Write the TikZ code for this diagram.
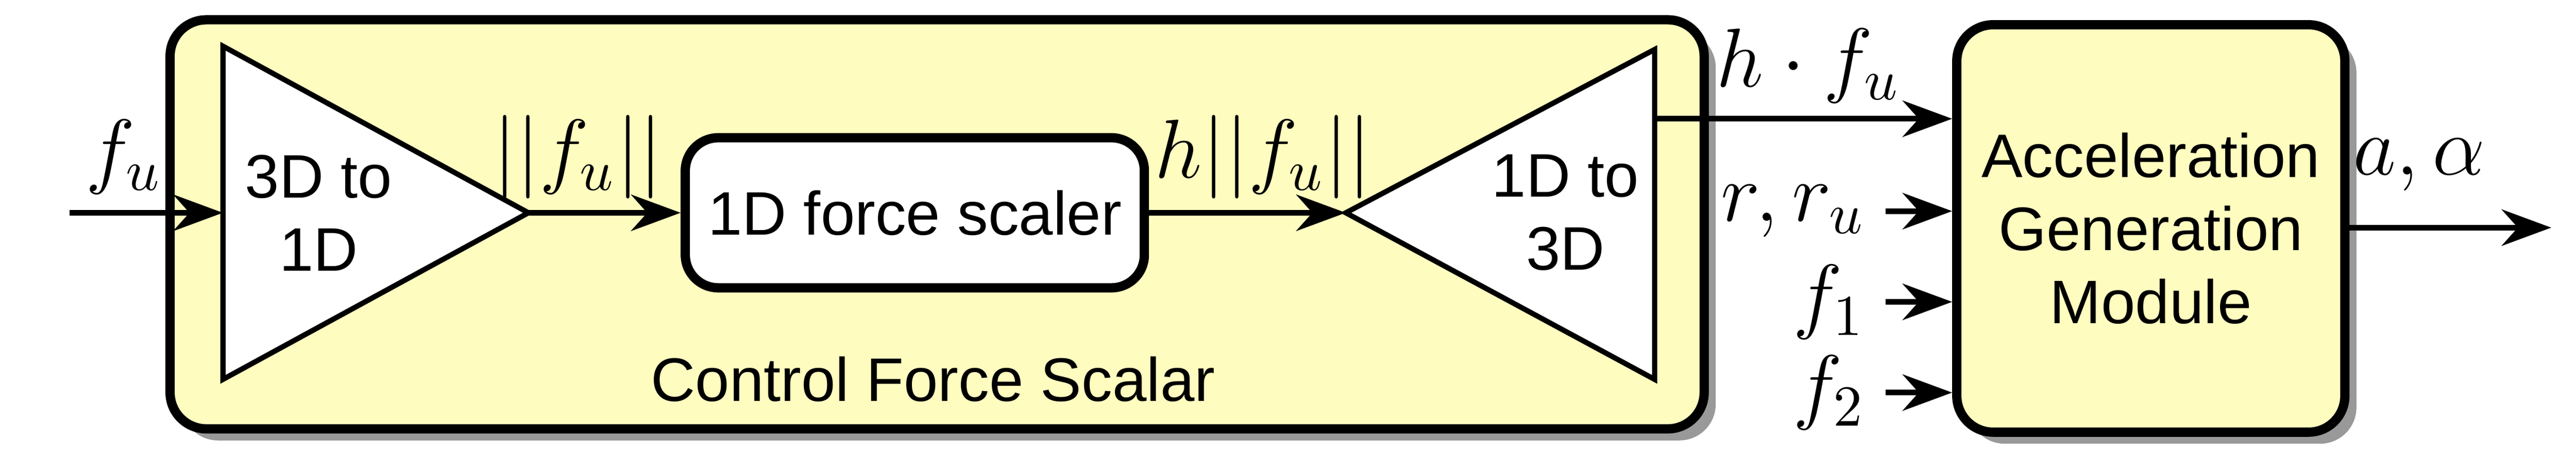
\documentclass[tikz,border=0pt]{standalone}
\usepackage{fontspec}
\setmainfont{Liberation Sans}
\usetikzlibrary{positioning,calc,arrows.meta,shadows}

\begin{document}
\begin{tikzpicture}[
    block/.style={draw, line width=1.6pt, rounded corners=0.22cm, fill=yellow!25, drop shadow={shadow xshift=0.07cm, shadow yshift=-0.07cm, fill=black!40, opacity=1}},
    inner/.style={draw, line width=1.6pt, rounded corners=0.2cm, fill=white, minimum width=2.78cm, minimum height=0.91cm, font=\fontsize{10.6}{12.6}\selectfont},
    tri/.style={draw, line width=0.9pt, fill=white},
    sig/.style={-{Stealth[length=0.3cm,width=0.22cm]}, line width=1pt},
    lbl/.style={font=\fontsize{14}{16}\selectfont},
    txt/.style={font=\fontsize{10.6}{12.6}\selectfont, align=center}
]
    \useasboundingbox (0,0) rectangle (15.6,2.77);

    % Control force scalar block
    \node[block, minimum width=9.29cm, minimum height=2.48cm] (cfs) at (5.675,1.41) {};
    \node[txt] (cfslbl) at (5.65,0.47) {Control Force Scalar};

    % 3D to 1D
    \draw[tri] (1.35,2.49) -- (1.35,0.47) -- (3.20,1.48) -- cycle;
    \coordinate (t1in) at (1.35,1.48);
    \coordinate (t1out) at (3.20,1.48);
    \node[txt] (t1) at (1.93,1.48) {3D to\\1D};

    % 1D force scaler
    \node[inner] (scaler) at (5.54,1.48) {1D force scaler};

    % 1D to 3D
    \draw[tri] (10.02,2.47) -- (10.02,0.47) -- (8.15,1.48) -- cycle;
    \coordinate (t2in) at (8.15,1.48);
    \coordinate (t2out) at (10.02,2.05);
    \node[txt] (t2) at (9.48,1.48) {1D to\\3D};

    % Acceleration generation module
    \node[block, minimum width=2.35cm, minimum height=2.47cm, txt] (agm) at (13.025,1.385) {Acceleration\\Generation\\Module};

    % Signals
    \coordinate (fu) at (0.42,1.48);
    \draw[sig] (fu) -- (t1in);
    \node[lbl] at (0.75,1.82) {$f_u$};
    \draw[sig] (t1out) -- (scaler.west);
    \node[lbl] at (3.5,1.82) {$||f_u||$};
    \draw[sig] (scaler.east) -- (t2in);
    \node[lbl] at (7.65,1.82) {$h||f_u||$};
    \draw[sig] (t2out) -- (t2out -| agm.west);
    \node[lbl] at (10.95,2.37) {$h\cdot f_u$};

    \coordinate (r) at (11.42,1.49);
    \coordinate (f1) at (11.42,0.94);
    \coordinate (f2) at (11.42,0.39);
    \draw[sig] (r) -- (r -| agm.west);
    \node[lbl, left=0pt of r] {$r, r_u$};
    \draw[sig] (f1) -- (f1 -| agm.west);
    \node[lbl, left=0pt of f1] {$f_1$};
    \draw[sig] (f2) -- (f2 -| agm.west);
    \node[lbl, left=0pt of f2] {$f_2$};

    \coordinate (out) at (15.45,1.39);
    \draw[sig] (agm.east |- out) -- (out);
    \node[lbl] at (14.65,1.77) {$a, \alpha$};
\end{tikzpicture}
\end{document}
